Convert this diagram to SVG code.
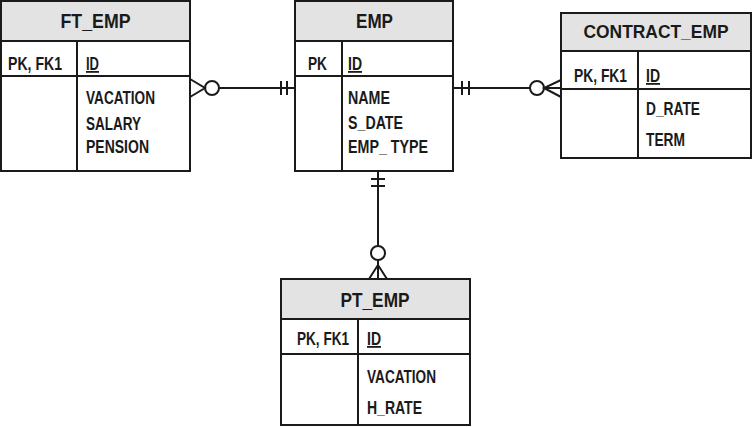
<svg xmlns="http://www.w3.org/2000/svg" width="752" height="427" viewBox="0 0 752 427">
<style>
.box{fill:#fff;stroke:#1a1a1a;stroke-width:2}
.hdr{fill:#e3e3e3;stroke:#1a1a1a;stroke-width:2}
.ln{stroke:#1a1a1a;stroke-width:2;fill:none}
.h{font-family:"Liberation Sans",Arial,sans-serif;font-weight:bold;font-size:21px;fill:#1a1a1a;text-anchor:middle}
.h2{font-size:19px}
.t{font-family:"Liberation Sans",Arial,sans-serif;font-weight:bold;font-size:18px;fill:#1a1a1a}
.u{text-decoration:underline}
</style>
<rect width="752" height="427" fill="#fff"/>
<g id="connectors">
  <!-- FT_EMP - EMP -->
  <line class="ln" x1="219" y1="88" x2="295" y2="88"/>
  <line class="ln" x1="281" y1="81" x2="281" y2="95"/>
  <line class="ln" x1="287" y1="81" x2="287" y2="95"/>
  <circle class="ln" cx="212" cy="88" r="7"/>
  <polyline class="ln" points="190,79 205,88 190,97"/>
  <!-- EMP - CONTRACT_EMP -->
  <line class="ln" x1="453" y1="88" x2="530" y2="88"/>
  <line class="ln" x1="462" y1="81" x2="462" y2="95"/>
  <line class="ln" x1="469" y1="81" x2="469" y2="95"/>
  <circle class="ln" cx="537" cy="88" r="7"/>
  <polyline class="ln" points="561,80 544,88 561,97"/>
  <line class="ln" x1="544" y1="88" x2="561" y2="88"/>
  <!-- EMP - PT_EMP -->
  <line class="ln" x1="378" y1="171" x2="378" y2="246"/>
  <line class="ln" x1="371" y1="179" x2="385" y2="179"/>
  <line class="ln" x1="371" y1="186" x2="385" y2="186"/>
  <circle class="ln" cx="378" cy="253" r="7"/>
  <polyline class="ln" points="369,279 378,265 387,279"/>
  <line class="ln" x1="378" y1="260" x2="378" y2="279"/>
</g>
<g id="FT_EMP">
  <rect class="box" x="1" y="1" width="189" height="170"/>
  <rect class="hdr" x="1" y="1" width="189" height="40"/>
  <line class="ln" x1="1" y1="76" x2="190" y2="76"/>
  <line class="ln" x1="77" y1="41" x2="77" y2="171"/>
  <text class="h" x="95.5" y="28" textLength="70" lengthAdjust="spacingAndGlyphs">FT_EMP</text>
  <text class="t" x="8" y="70" textLength="54" lengthAdjust="spacingAndGlyphs">PK, FK1</text>
  <text class="t u" x="86" y="70" textLength="13" lengthAdjust="spacingAndGlyphs">ID</text>
  <text class="t" x="86" y="104" textLength="69" lengthAdjust="spacingAndGlyphs">VACATION</text>
  <text class="t" x="86" y="130" textLength="55" lengthAdjust="spacingAndGlyphs">SALARY</text>
  <text class="t" x="86" y="153" textLength="63" lengthAdjust="spacingAndGlyphs">PENSION</text>
</g>
<g id="EMP">
  <rect class="box" x="295" y="1" width="158" height="170"/>
  <rect class="hdr" x="295" y="1" width="158" height="40"/>
  <line class="ln" x1="295" y1="76" x2="453" y2="76"/>
  <line class="ln" x1="342" y1="41" x2="342" y2="171"/>
  <text class="h" x="374.5" y="28" textLength="37" lengthAdjust="spacingAndGlyphs">EMP</text>
  <text class="t" x="308" y="70" textLength="19" lengthAdjust="spacingAndGlyphs">PK</text>
  <text class="t u" x="348" y="70" textLength="14" lengthAdjust="spacingAndGlyphs">ID</text>
  <text class="t" x="348" y="104" textLength="42" lengthAdjust="spacingAndGlyphs">NAME</text>
  <text class="t" x="348" y="129" textLength="55" lengthAdjust="spacingAndGlyphs">S_DATE</text>
  <text class="t" x="348" y="153" textLength="80" lengthAdjust="spacingAndGlyphs">EMP_ TYPE</text>
</g>
<g id="CONTRACT_EMP">
  <rect class="box" x="561" y="13" width="190" height="145"/>
  <rect class="hdr" x="561" y="13" width="190" height="38"/>
  <line class="ln" x1="561" y1="89" x2="751" y2="89"/>
  <line class="ln" x1="638" y1="51" x2="638" y2="158"/>
  <text class="h h2" x="656" y="38" textLength="145" lengthAdjust="spacingAndGlyphs">CONTRACT_EMP</text>
  <text class="t" x="574" y="82" textLength="53" lengthAdjust="spacingAndGlyphs">PK, FK1</text>
  <text class="t u" x="646" y="82" textLength="14" lengthAdjust="spacingAndGlyphs">ID</text>
  <text class="t" x="646" y="115" textLength="54" lengthAdjust="spacingAndGlyphs">D_RATE</text>
  <text class="t" x="646" y="146" textLength="39" lengthAdjust="spacingAndGlyphs">TERM</text>
</g>
<g id="PT_EMP">
  <rect class="box" x="281" y="279" width="189" height="146"/>
  <rect class="hdr" x="281" y="279" width="189" height="40"/>
  <line class="ln" x1="281" y1="354" x2="470" y2="354"/>
  <line class="ln" x1="358" y1="319" x2="358" y2="425"/>
  <text class="h" x="375" y="307" textLength="69" lengthAdjust="spacingAndGlyphs">PT_EMP</text>
  <text class="t" x="297" y="345" textLength="52" lengthAdjust="spacingAndGlyphs">PK, FK1</text>
  <text class="t u" x="367" y="345" textLength="14" lengthAdjust="spacingAndGlyphs">ID</text>
  <text class="t" x="367" y="383" textLength="69" lengthAdjust="spacingAndGlyphs">VACATION</text>
  <text class="t" x="367" y="414" textLength="55" lengthAdjust="spacingAndGlyphs">H_RATE</text>
</g>
</svg>
